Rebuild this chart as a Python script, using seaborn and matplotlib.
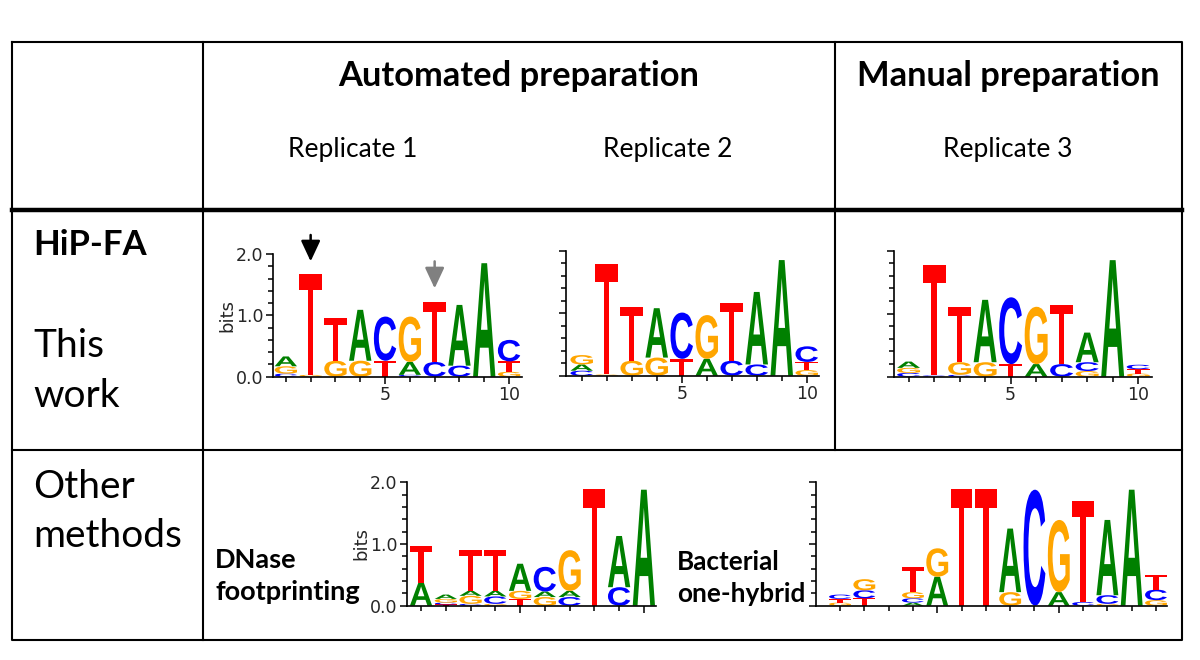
import numpy as np
import matplotlib
matplotlib.use("Agg")
import matplotlib.pyplot as plt
import matplotlib.transforms as mtransforms
from matplotlib.textpath import TextPath
from matplotlib.patches import PathPatch
from matplotlib.font_manager import FontProperties
import seaborn as sns

# --- data: letters per column (bottom -> top) and their heights in bits ---
REP1_LETTERS = ["CGA", "GT", "GT", "GA", "TC", "CAG", "CT", "CA", "A", "GTC"]
REP1_HEIGHTS = [[0.05, 0.12, 0.16], [0.03, 1.65], [0.26, 0.69], [0.26, 0.83], [0.26, 0.72],
                [0.03, 0.21, 0.74], [0.24, 0.97], [0.18, 0.99], [1.85], [0.08, 0.17, 0.35]]

REP2_LETTERS = ["CAG", "GT", "GT", "GA", "TC", "AG", "CT", "CA", "A", "GTC"]
REP2_HEIGHTS = [[0.08, 0.10, 0.15], [0.02, 1.77], [0.24, 0.86], [0.29, 0.79], [0.27, 0.74],
                [0.27, 0.70], [0.24, 0.92], [0.18, 1.16], [1.85], [0.09, 0.13, 0.25]]

REP3_LETTERS = ["CGA", "CT", "CGT", "GA", "TC", "AG", "CT", "GCA", "A", "GTC"]
REP3_HEIGHTS = [[0.06, 0.08, 0.10], [0.02, 1.75], [0.03, 0.20, 0.87], [0.23, 0.99], [0.20, 1.06],
                [0.20, 0.91], [0.20, 0.94], [0.09, 0.14, 0.47], [1.85], [0.05, 0.07, 0.07]]

DNASE_LETTERS = ["AT", "TCGA", "CGAT", "GCAT", "TGA", "GAC", "CAG", "T", "CA", "A"]
DNASE_HEIGHTS = [[0.37, 0.60], [0.02, 0.03, 0.06, 0.07], [0.03, 0.13, 0.08, 0.67],
                 [0.03, 0.12, 0.09, 0.67], [0.11, 0.13, 0.44], [0.14, 0.09, 0.40],
                 [0.14, 0.10, 0.66], [1.89], [0.30, 0.83], [1.88]]

B1H_LETTERS = ["GTC", "TCG", "", "ACGT", "AG", "T", "T", "GA", "C", "AG", "CT", "GCA", "A", "GCT"]
B1H_HEIGHTS = [[0.05, 0.06, 0.07], [0.12, 0.13, 0.18], [], [0.05, 0.07, 0.10, 0.41], [0.47, 0.46],
               [1.89], [1.89], [0.22, 1.03], [1.88], [0.22, 1.17], [0.06, 1.64],
               [0.03, 0.14, 1.22], [1.88], [0.09, 0.17, 0.24]]

# arrows above replicate 1: (position, top, tip)
ARROW_POS = [2, 7]
ARROW_TOP = [2.31, 1.88]
ARROW_TIP = [1.88, 1.44]
ARROW_COLORS = ["black", "#808080"]

COLORS = {"A": "#008000", "C": "#0000FF", "G": "#FFA500", "T": "#FF0000"}

sns.set_theme(style="ticks")
plt.rcParams["font.family"] = ["Lato", "DejaVu Sans"]

LOGO_FONT = FontProperties(family="Liberation Sans", weight="bold")
TICK_FONT = "DejaVu Sans"
GLYPHS = {}


def glyph(letter):
    if letter not in GLYPHS:
        GLYPHS[letter] = TextPath((0, 0), letter, size=1, prop=LOGO_FONT)
    return GLYPHS[letter]


def draw_letter(ax, letter, x, y, h, width=0.9):
    path = glyph(letter)
    ext = path.get_extents()
    t = (mtransforms.Affine2D()
         .translate(-ext.x0, -ext.y0)
         .scale(width / ext.width, h / ext.height)
         .translate(x - width / 2, y))
    ax.add_patch(PathPatch(t.transform_path(path), fc=COLORS[letter], ec="none", lw=0))


def px_rect(left, bottom, right, top):
    return [left / 1200, 1 - bottom / 660, (right - left) / 1200, (bottom - top) / 660]


def draw_logo(fig, rect, letters, heights, xlim, ylabels=False, xlabels=False):
    ax = fig.add_axes(rect)
    for pos, (col, hs) in enumerate(zip(letters, heights), start=1):
        y = 0.0
        for letter, h in zip(col, hs):
            draw_letter(ax, letter, pos, y, h)
            y += h
    ax.set_xlim(*xlim)
    ax.set_ylim(0, 2.0)
    ax.set_facecolor("none")
    sns.despine(ax=ax)
    for s in ["left", "bottom"]:
        ax.spines[s].set_linewidth(1.2)
        ax.spines[s].set_color("black")
    n = len(letters)
    ax.set_xticks([5, 10])
    ax.set_xticks(range(1, n + 1), minor=True)
    ax.set_yticks([0, 1, 2])
    ax.set_yticks(np.arange(0, 2.01, 0.2), minor=True)
    ax.tick_params(axis="both", which="major", length=5, width=1.1, color="black",
                   labelsize=12.5, pad=1.5)
    ax.tick_params(axis="both", which="minor", length=3.5, width=1.1, color="black")
    if ylabels:
        ax.set_yticklabels(["0.0", "1.0", "2.0"], fontfamily=TICK_FONT)
        ax.set_ylabel("bits", fontfamily=TICK_FONT, fontsize=13, labelpad=0)
    else:
        ax.set_yticklabels([])
    if xlabels:
        ax.set_xticklabels(["5", "10"], fontfamily=TICK_FONT)
    else:
        ax.set_xticklabels([])
    return ax


fig = plt.figure(figsize=(12, 6.6), dpi=100)

# --- table frame (pixel coordinates) ---
tab = fig.add_axes([0, 0, 1, 1])
tab.set_xlim(0, 1200)
tab.set_ylim(660, 0)
tab.axis("off")
kw = dict(color="black", solid_capstyle="projecting")
tab.plot([12, 1182, 1182, 12, 12], [42, 42, 639.5, 639.5, 42], lw=1.5, **kw)
tab.plot([203, 203], [42, 639.5], lw=1.5, **kw)
tab.plot([835, 835], [42, 450], lw=1.5, **kw)
tab.plot([12, 1182], [209.7, 209.7], lw=3.2, **kw)
tab.plot([12, 1182], [450, 450], lw=1.5, **kw)

bold = dict(fontweight="bold", color="black")
tab.text(519, 76, "Automated preparation", fontsize=24.8, ha="center", va="center", **bold)
tab.text(1008, 76, "Manual preparation", fontsize=24.8, ha="center", va="center", **bold)
for x, lab in zip([353, 668, 1008], ["Replicate 1", "Replicate 2", "Replicate 3"]):
    tab.text(x, 149, lab, fontsize=19, ha="center", va="center", color="black")
tab.text(33, 245, "HiP-FA", fontsize=25, ha="left", va="center", **bold)
tab.text(33, 346, "This", fontsize=28, ha="left", va="center", color="black")
tab.text(33, 396, "work", fontsize=28, ha="left", va="center", color="black")
tab.text(33, 487, "Other", fontsize=28, ha="left", va="center", color="black")
tab.text(33, 536, "methods", fontsize=28, ha="left", va="center", color="black")
tab.text(215, 560, "DNase", fontsize=19.5, ha="left", va="center", **bold)
tab.text(215, 592, "footprinting", fontsize=19.5, ha="left", va="center", **bold)
tab.text(677, 562, "Bacterial", fontsize=18.8, ha="left", va="center", **bold)
tab.text(677, 594, "one-hybrid", fontsize=18.8, ha="left", va="center", **bold)

# --- logos ---
ax1 = draw_logo(fig, px_rect(272.7, 376.7, 521.7, 254), REP1_LETTERS, REP1_HEIGHTS,
                (0.47, 10.51), ylabels=True, xlabels=True)
draw_logo(fig, px_rect(565.7, 375.7, 819, 250.7), REP2_LETTERS, REP2_HEIGHTS,
          (0.36, 10.49), xlabels=True)
draw_logo(fig, px_rect(894.3, 376.7, 1151.7, 250.7), REP3_LETTERS, REP3_HEIGHTS,
          (0.44, 10.53), xlabels=True)
draw_logo(fig, px_rect(406.7, 605.7, 656, 482.3), DNASE_LETTERS, DNASE_HEIGHTS,
          (0.42, 10.49), ylabels=True)
draw_logo(fig, px_rect(815.7, 605.7, 1166.7, 482.3), B1H_LETTERS, B1H_HEIGHTS,
          (0.0, 14.44))

for x, top, tip, c in zip(ARROW_POS, ARROW_TOP, ARROW_TIP, ARROW_COLORS):
    ax1.annotate("", xy=(x, tip), xytext=(x, top), annotation_clip=False,
                 arrowprops=dict(arrowstyle="-|>,head_width=0.42,head_length=0.9",
                                 color=c, lw=1.8, shrinkA=0, shrinkB=0,
                                 mutation_scale=14))

fig.savefig("out.png", dpi=100)
